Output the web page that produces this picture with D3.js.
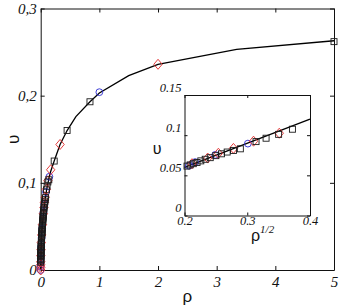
<!DOCTYPE html>
<html><head><meta charset="utf-8">
<script src="https://cdn.jsdelivr.net/npm/d3@7"></script>
<style>body{margin:0;background:#fff}svg{display:block}</style>
</head><body>
<script>
// ---- main plot data ----
const xTicks = [0, 1, 2, 3, 4, 5];
const xTickLabels = ["0", "1", "2", "3", "4", "5"];
const yTicks = [0, 0.1, 0.2, 0.3];
const yTickLabels = ["0", "0,1", "0,2", "0,3"];

const curveRho = [0, 0.0005, 0.002, 0.005, 0.01, 0.02, 0.04, 0.07, 0.1, 0.14, 0.17, 0.23, 0.33, 0.45, 0.6, 0.84, 1.0, 1.5, 2.0, 3.34, 5.0];
const curveV   = [0, 0.0067, 0.0134, 0.0212, 0.030, 0.0425, 0.060, 0.078, 0.092, 0.105, 0.113, 0.125, 0.144, 0.160, 0.176, 0.193, 0.203, 0.223, 0.236, 0.253, 0.263];

const squareRho = [0.0009, 0.00123, 0.0016, 0.00203, 0.0025, 0.00303, 0.0036, 0.00423, 0.0049, 0.00563, 0.0064, 0.00723, 0.0081, 0.00903, 0.01, 0.01103, 0.0121, 0.01323, 0.0144, 0.01563, 0.0169, 0.01823, 0.0196, 0.02103, 0.0225, 0.02403, 0.0256, 0.02723, 0.0289, 0.03063, 0.0324, 0.03423, 0.0361, 0.03803, 0.04, 0.0416, 0.0437, 0.0458, 0.0484, 0.0511, 0.0543, 0.0581, 0.0625, 0.0671, 0.0718, 0.0773, 0.0835, 0.0986, 0.1089, 0.1225, 0.1384, 0.23, 0.45, 0.84, 5.0];
const squareV   = [0.009, 0.0105, 0.012, 0.0135, 0.015, 0.0165, 0.018, 0.0195, 0.021, 0.0225, 0.024, 0.0255, 0.027, 0.0285, 0.030, 0.0315, 0.033, 0.0345, 0.036, 0.0375, 0.039, 0.0405, 0.042, 0.0435, 0.045, 0.0465, 0.048, 0.0495, 0.051, 0.0525, 0.054, 0.0555, 0.057, 0.0585, 0.060, 0.0615, 0.063, 0.0645, 0.066, 0.068, 0.070, 0.072, 0.0745, 0.0768, 0.079, 0.081, 0.083, 0.092, 0.0962, 0.101, 0.1035, 0.125, 0.160, 0.193, 0.262];

const circleRho = [0, 0.0002, 0.0008, 0.002, 0.004, 0.008, 0.015, 0.025, 0.047, 0.062, 0.0906, 0.148, 1.0];
const circleV   = [0, 0.0042, 0.0085, 0.0134, 0.019, 0.0268, 0.0367, 0.0474, 0.0665, 0.0755, 0.0895, 0.107, 0.204];

const diamondRho = [0, 0.0001, 0.0004, 0.001, 0.003, 0.006, 0.011, 0.018, 0.03, 0.045, 0.056, 0.064, 0.077, 0.096, 0.123, 0.17, 0.33, 2.0];
const diamondV   = [0, 0.003, 0.006, 0.0095, 0.0164, 0.0232, 0.0315, 0.0402, 0.052, 0.0645, 0.0715, 0.0775, 0.0835, 0.0925, 0.1024, 0.115, 0.144, 0.236];

// ---- inset data (x = rho^(1/2)) ----
const insetXTicks = [0.2, 0.3, 0.4];
const insetXTickLabels = ["0.2", "0.3", "0.4"];
const insetYTicks = [0, 0.05, 0.1, 0.15];
const insetYTickLabels = ["0", "0.05", "0.1", "0.15"];

const insetLineS = [0.2, 0.4];
const insetLineV = [0.06, 0.12];

const insetSquareS = [0.204, 0.209, 0.214, 0.220, 0.226, 0.233, 0.241, 0.250, 0.259, 0.268, 0.278, 0.289, 0.314, 0.330, 0.350, 0.372];
const insetSquareV = [0.0615, 0.063, 0.0645, 0.066, 0.068, 0.070, 0.072, 0.0745, 0.0768, 0.079, 0.081, 0.083, 0.092, 0.0962, 0.101, 0.1074];
const insetCircleS = [0.207, 0.217, 0.249, 0.301];
const insetCircleV = [0.062, 0.0665, 0.0755, 0.0895];
const insetDiamondS = [0.212, 0.237, 0.254, 0.278, 0.310, 0.351];
const insetDiamondV = [0.0645, 0.0715, 0.0775, 0.0835, 0.0925, 0.1024];

const W = 344, H = 307;
const svg = d3.select("body").append("svg").attr("width", W).attr("height", H);

const x = d3.scaleLinear().domain([0, 5]).range([40.7, 334]);
const y = d3.scaleLinear().domain([0, 0.3]).range([270, 8.5]);

const tickFont = g => g.selectAll("text")
  .attr("font-family", "'Liberation Serif', 'Times New Roman', serif")
  .attr("font-style", "italic").attr("fill", "#111");
const lineStyle = g => { g.select(".domain").attr("stroke", "#111").attr("stroke-width", 1);
  g.selectAll(".tick line").attr("stroke", "#111"); };

// main axes
svg.append("g").attr("transform", `translate(0,${y(0)})`)
  .call(d3.axisBottom(x).tickValues(xTicks).tickFormat((d, i) => xTickLabels[i]).tickSizeInner(-4).tickSizeOuter(0).tickPadding(6))
  .call(lineStyle).call(tickFont).call(g => g.selectAll("text").attr("font-size", 15));
svg.append("g").attr("transform", `translate(0,${y(0.3)})`)
  .call(d3.axisTop(x).tickValues(xTicks).tickFormat("").tickSizeInner(-4).tickSizeOuter(0))
  .call(lineStyle);
svg.append("g").attr("transform", `translate(${x(0)},0)`)
  .call(d3.axisLeft(y).tickValues(yTicks).tickFormat((d, i) => yTickLabels[i]).tickSizeInner(-4).tickSizeOuter(0).tickPadding(4))
  .call(lineStyle).call(tickFont).call(g => g.selectAll("text").attr("font-size", 15));
svg.append("g").attr("transform", `translate(${x(5)},0)`)
  .call(d3.axisRight(y).tickValues(yTicks).tickFormat("").tickSizeInner(-4).tickSizeOuter(0))
  .call(lineStyle);

// axis titles
svg.append("text").attr("x", (x(0) + x(5)) / 2).attr("y", 302).attr("text-anchor", "middle")
  .attr("font-family", "'Liberation Sans', Arial, sans-serif").attr("font-size", 17).attr("fill", "#111").text("ρ");
svg.append("text").attr("transform", `translate(19,${(y(0) + y(0.3)) / 2}) rotate(-90)`).attr("text-anchor", "middle")
  .attr("font-family", "'Liberation Sans', Arial, sans-serif").attr("font-size", 17).attr("fill", "#111").text("υ");

// marker helpers
const diamondPath = (cx, cy, hw, hh) => `M${cx},${cy - hh}L${cx + hw},${cy}L${cx},${cy + hh}L${cx - hw},${cy}Z`;
function drawMarkers(g, sx, sy, xs, ys, type) {
  const data = xs.map((v, i) => [v, ys[i]]);
  if (type === "circle") {
    g.selectAll(null).data(data).enter().append("circle")
      .attr("cx", d => sx(d[0])).attr("cy", d => sy(d[1])).attr("r", 3.4)
      .attr("fill", "none").attr("stroke", "#2a2ad0").attr("stroke-width", 0.9);
  } else if (type === "diamond") {
    g.selectAll(null).data(data).enter().append("path")
      .attr("d", d => diamondPath(sx(d[0]), sy(d[1]), 4.2, 5))
      .attr("fill", "none").attr("stroke", "#e02828").attr("stroke-width", 0.9);
  } else {
    g.selectAll(null).data(data).enter().append("rect")
      .attr("x", d => sx(d[0]) - 3).attr("y", d => sy(d[1]) - 3).attr("width", 6).attr("height", 6)
      .attr("fill", "none").attr("stroke", "#1a1a1a").attr("stroke-width", 0.9);
  }
}

// main curve and markers
const mainG = svg.append("g");
mainG.append("path").datum(curveRho.map((r, i) => [r, curveV[i]]))
  .attr("d", d3.line().x(d => x(d[0])).y(d => y(d[1])))
  .attr("fill", "none").attr("stroke", "#000").attr("stroke-width", 1.3);
drawMarkers(mainG, x, y, circleRho, circleV, "circle");
drawMarkers(mainG, x, y, diamondRho, diamondV, "diamond");
drawMarkers(mainG, x, y, squareRho, squareV, "square");

// ---- inset ----
const xi = d3.scaleLinear().domain([0.2, 0.4]).range([184.5, 310]);
const yi = d3.scaleLinear().domain([0, 0.15]).range([215.5, 95]);
svg.append("rect").attr("x", xi(0.2)).attr("y", yi(0.15)).attr("width", xi(0.4) - xi(0.2)).attr("height", yi(0) - yi(0.15)).attr("fill", "#fff");

svg.append("g").attr("transform", `translate(0,${yi(0)})`)
  .call(d3.axisBottom(xi).tickValues(insetXTicks).tickFormat((d, i) => insetXTickLabels[i]).tickSizeInner(-3).tickSizeOuter(0).tickPadding(1))
  .call(lineStyle).call(tickFont).call(g => g.selectAll("text").attr("font-size", 12.5));
svg.append("g").attr("transform", `translate(0,${yi(0.15)})`)
  .call(d3.axisTop(xi).tickValues(insetXTicks).tickFormat("").tickSizeInner(-3).tickSizeOuter(0))
  .call(lineStyle);
svg.append("g").attr("transform", `translate(${xi(0.2)},0)`)
  .call(d3.axisLeft(yi).tickValues(insetYTicks).tickFormat((d, i) => insetYTickLabels[i]).tickSizeInner(-3).tickSizeOuter(0).tickPadding(3))
  .call(lineStyle).call(tickFont).call(g => g.selectAll("text").attr("font-size", 12.5).attr("dy", "-0.3em"));
svg.append("g").attr("transform", `translate(${xi(0.4)},0)`)
  .call(d3.axisRight(yi).tickValues(insetYTicks).tickFormat("").tickSizeInner(-3).tickSizeOuter(0))
  .call(lineStyle);

const insetG = svg.append("g");
insetG.append("path").datum(insetLineS.map((s, i) => [s, insetLineV[i]]))
  .attr("d", d3.line().x(d => xi(d[0])).y(d => yi(d[1])))
  .attr("fill", "none").attr("stroke", "#000").attr("stroke-width", 1.3);
drawMarkers(insetG, xi, yi, insetCircleS, insetCircleV, "circle");
drawMarkers(insetG, xi, yi, insetDiamondS, insetDiamondV, "diamond");
drawMarkers(insetG, xi, yi, insetSquareS, insetSquareV, "square");

// inset titles
svg.append("text").attr("x", 157).attr("y", 154).attr("text-anchor", "middle")
  .attr("font-family", "'Liberation Sans', Arial, sans-serif").attr("font-size", 16).attr("fill", "#111").text("υ");
const xl = svg.append("text").attr("x", 251).attr("y", 241)
  .attr("font-family", "'Liberation Sans', Arial, sans-serif").attr("font-size", 16).attr("fill", "#111");
xl.append("tspan").text("ρ");
xl.append("tspan").attr("dy", -8).attr("font-family", "'Liberation Serif', serif").attr("font-style", "italic").attr("font-size", 11).text("1/2");
</script>
</body></html>
